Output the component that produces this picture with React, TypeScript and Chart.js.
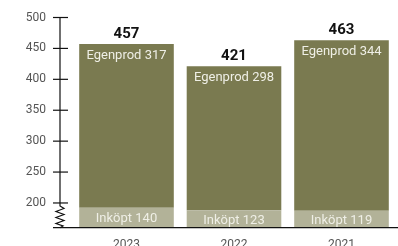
import React, { useEffect, useRef } from "react";
import { Chart, registerables } from "chart.js";

Chart.register(...registerables);

const years = ["2023", "2022", "2021"];
const egenprod = [317, 298, 344];
const inkopt = [140, 123, 119];
const yTicks = [200, 250, 300, 350, 400, 450, 500];
const yMin = 160;
const yMax = 500;
// broken axis: the "Inköpt" part is shown compressed below the break
const breakScale = 0.23;

const totals = years.map((_, i) => egenprod[i] + inkopt[i]);

const DARK = "#7a7a50";
const LIGHT = "#b2b298";
const INNER_TEXT = "#efefe6";
const FONT = "Roboto, 'Noto Sans', sans-serif";

const overlay = {
  id: "overlay",
  afterDatasetsDraw(chart: any) {
    const ctx = chart.ctx as CanvasRenderingContext2D;
    const y = chart.scales.y;
    const x = chart.scales.x;
    const area = chart.chartArea;
    const axisX = area.left - 12.75;
    ctx.save();

    // inner labels
    const metaIn = chart.getDatasetMeta(0);
    const metaEg = chart.getDatasetMeta(1);
    ctx.textAlign = "center";
    metaEg.data.forEach((bar: any, i: number) => {
      ctx.fillStyle = INNER_TEXT;
      ctx.font = `13px ${FONT}`;
      ctx.textBaseline = "top";
      ctx.fillText(`Egenprod ${egenprod[i]}`, bar.x, bar.y + 5);
      ctx.fillStyle = "#111";
      ctx.font = `bold 15px ${FONT}`;
      ctx.textBaseline = "alphabetic";
      ctx.fillText(String(totals[i]), bar.x, bar.y - 6);
    });
    metaIn.data.forEach((bar: any, i: number) => {
      ctx.fillStyle = INNER_TEXT;
      ctx.font = `13px ${FONT}`;
      ctx.textBaseline = "middle";
      ctx.fillText(`Inköpt ${inkopt[i]}`, bar.x, (bar.y + bar.base) / 2 + 1.5);
    });

    // y axis
    ctx.strokeStyle = "#111";
    ctx.lineWidth = 1.2;
    const yTop = y.getPixelForValue(yMax);
    const y200 = y.getPixelForValue(200);
    const yBot = y.getPixelForValue(yMin);
    ctx.beginPath();
    ctx.moveTo(axisX, yTop);
    ctx.lineTo(axisX, y200 + 3);
    const zz = [
      [axisX + 4, y200 + 5.5],
      [axisX - 4, y200 + 8.5],
      [axisX + 4, y200 + 11.5],
      [axisX - 4, y200 + 14.5],
      [axisX + 4, y200 + 17.5],
      [axisX - 4, y200 + 20.5],
      [axisX + 3, y200 + 23],
      [axisX, yBot],
    ];
    zz.forEach(([px, py]) => ctx.lineTo(px, py));
    ctx.stroke();

    ctx.fillStyle = "#555";
    ctx.font = `12px ${FONT}`;
    ctx.textAlign = "right";
    ctx.textBaseline = "middle";
    yTicks.forEach((v) => {
      const py = y.getPixelForValue(v);
      ctx.beginPath();
      ctx.moveTo(axisX - 7, py);
      ctx.lineTo(axisX + 8, py);
      ctx.stroke();
      ctx.fillText(String(v), axisX - 14, py);
    });

    // baseline
    ctx.beginPath();
    ctx.moveTo(axisX - 7, yBot);
    ctx.lineTo(chart.width, yBot);
    ctx.stroke();

    // x labels
    ctx.textAlign = "center";
    ctx.textBaseline = "top";
    ctx.fillStyle = "#555";
    years.forEach((lab, i) => {
      ctx.fillText(lab, x.getPixelForValue(i), yBot + 11);
    });
    ctx.restore();
  },
};

export default function App() {
  const ref = useRef<HTMLCanvasElement | null>(null);
  useEffect(() => {
    if (!ref.current) return;
    const chart = new Chart(ref.current, {
      type: "bar",
      data: {
        labels: years,
        datasets: [
          {
            label: "Inköpt",
            data: inkopt.map((v) => [yMin, yMin + v * breakScale]) as any,
            backgroundColor: LIGHT,
            grouped: false,
            barPercentage: 0.88,
            categoryPercentage: 1,
          },
          {
            label: "Egenprod",
            data: years.map((_, i) => [yMin + inkopt[i] * breakScale, totals[i]]) as any,
            backgroundColor: DARK,
            grouped: false,
            barPercentage: 0.88,
            categoryPercentage: 1,
          },
        ],
      },
      options: {
        animation: false,
        responsive: false,
        layout: { padding: { left: 72.75, right: 2.75, top: 17.5, bottom: 18.3 } },
        plugins: { legend: { display: false }, tooltip: { enabled: false } },
        scales: {
          x: { display: false },
          y: { display: false, min: yMin, max: yMax },
        },
      },
      plugins: [overlay],
    });
    return () => chart.destroy();
  }, []);
  return (
    <div style={{ position: "fixed", left: 0, top: 0, width: 398, height: 246, background: "#fff" }}>
      <canvas ref={ref} width={398} height={246} />
    </div>
  );
}
